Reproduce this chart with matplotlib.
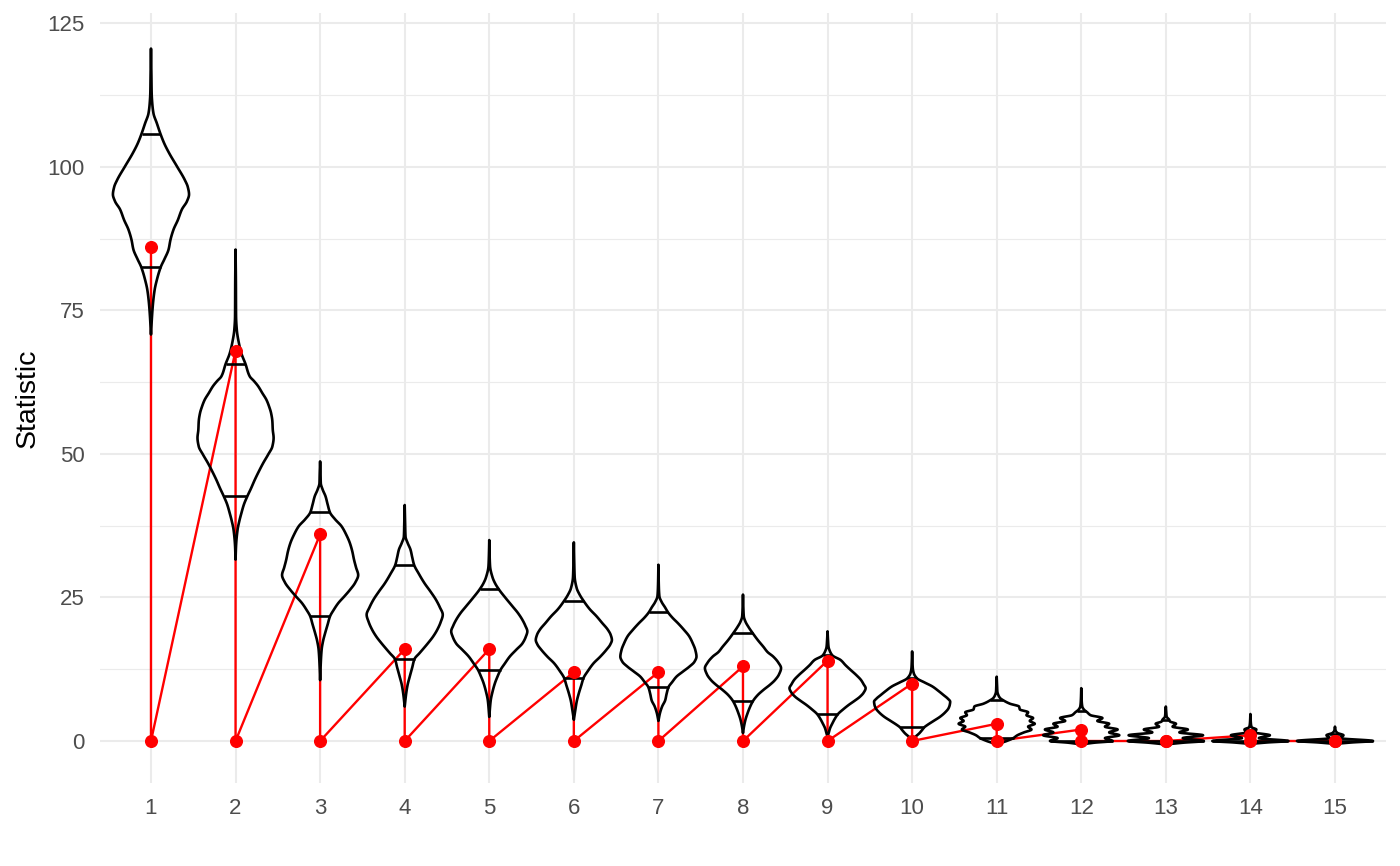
import numpy as np
import matplotlib
matplotlib.use("Agg")
import matplotlib.pyplot as plt

plt.rcParams['font.family'] = ['Liberation Sans', 'DejaVu Sans']

# ---------------- data ----------------
positions = list(range(1, 16))
tick_labels = [str(p) for p in positions]
observed = [86, 68, 36, 16, 16, 12, 12, 13, 14, 10, 3, 2, 0, 1, 0]
q_low = [82.6, 42.6, 21.7, 14.3, 12.4, 11.0, 9.4, 7.0, 4.7, 2.4, 0.6, 0.0, 0.0, 0.0, 0.0]
q_high = [105.8, 65.7, 39.8, 30.7, 26.4, 24.4, 22.4, 18.8, 14.9, 10.9, 7.1, 5.2, 3.6, 1.9, 1.2]

# violin outlines: (statistic value, relative half-width)
prof_01 = [(70.8, 0), (73.9, 0.012), (76.2, 0.024), (78.6, 0.044), (80.3, 0.07), (82.6, 0.118),
           (83.9, 0.16), (85.6, 0.21), (87.3, 0.233), (89.1, 0.27), (90.7, 0.32), (92.6, 0.37),
           (94.0, 0.43), (95.2, 0.455), (96.5, 0.44), (97.7, 0.405), (100.1, 0.31), (102.4, 0.217),
           (104.1, 0.158), (105.8, 0.112), (107.6, 0.07), (109.3, 0.03), (111.1, 0.015),
           (112.9, 0.008), (116, 0.005), (120.6, 0)]
prof_02 = [(31.6, 0), (34.0, 0.006), (36.8, 0.024), (38.3, 0.045), (39.7, 0.07), (41.2, 0.1),
           (42.6, 0.14), (44.0, 0.185), (45.5, 0.23), (47.0, 0.28), (48.4, 0.33), (49.9, 0.39),
           (51.3, 0.44), (52.8, 0.455), (54.2, 0.445), (55.7, 0.44), (57.1, 0.425), (58.3, 0.40),
           (59.4, 0.37), (60.6, 0.32), (61.8, 0.27), (62.7, 0.22), (63.5, 0.17), (65.7, 0.118),
           (67.5, 0.07), (69.3, 0.04), (71.6, 0.015), (74.0, 0.006), (80, 0.004), (85.6, 0)]
prof_03 = [(10.6, 0), (13.0, 0.006), (15.9, 0.018), (17.4, 0.035), (18.8, 0.06), (20.3, 0.09),
           (21.7, 0.118), (22.9, 0.165), (24.0, 0.216), (25.2, 0.29), (26.3, 0.355), (27.6, 0.42),
           (28.9, 0.455), (30.2, 0.43), (31.6, 0.405), (33.0, 0.385), (34.5, 0.355), (36.0, 0.31),
           (37.4, 0.256), (38.6, 0.18), (39.8, 0.118), (41.2, 0.09), (42.6, 0.065), (43.8, 0.03),
           (44.9, 0.008), (46.5, 0.005), (48.7, 0)]
prof_04 = [(6.0, 0), (8.3, 0.018), (9.8, 0.035), (11.2, 0.06), (12.8, 0.09), (14.3, 0.118),
           (15.3, 0.177), (16.2, 0.23), (17.0, 0.276), (18.2, 0.34), (19.4, 0.39), (20.7, 0.43),
           (22.0, 0.455), (23.3, 0.42), (24.6, 0.374), (26.0, 0.31), (27.5, 0.236), (29.1, 0.17),
           (30.7, 0.112), (32.0, 0.09), (33.3, 0.07), (34.5, 0.035), (35.6, 0.01), (38.0, 0.005),
           (41.1, 0)]
prof_05 = [(4.2, 0), (7.1, 0.018), (8.6, 0.04), (10.1, 0.07), (11.2, 0.1), (12.4, 0.138),
           (13.5, 0.19), (14.7, 0.25), (15.9, 0.33), (17.0, 0.405), (18.1, 0.445), (19.1, 0.465),
           (20.1, 0.44), (21.1, 0.405), (22.3, 0.35), (23.4, 0.287), (24.9, 0.2), (26.4, 0.118),
           (27.5, 0.07), (28.5, 0.04), (30.4, 0.01), (32.0, 0.005), (35.0, 0)]
prof_06 = [(3.7, 0), (5.4, 0.018), (6.9, 0.035), (8.3, 0.06), (9.7, 0.09), (11.0, 0.118),
           (12.2, 0.17), (13.5, 0.236), (14.7, 0.32), (15.9, 0.394), (16.8, 0.44), (17.6, 0.46),
           (18.5, 0.445), (19.4, 0.41), (20.6, 0.34), (21.7, 0.276), (23.0, 0.19), (24.4, 0.118),
           (25.5, 0.07), (26.6, 0.035), (28.6, 0.01), (31.0, 0.005), (34.6, 0)]
prof_07 = [(3.5, 0), (4.8, 0.018), (6.0, 0.045), (7.1, 0.083), (8.2, 0.1), (9.4, 0.124),
           (10.3, 0.17), (11.2, 0.22), (12.1, 0.3), (12.95, 0.378), (13.8, 0.44), (14.7, 0.465),
           (15.9, 0.45), (17.0, 0.42), (18.2, 0.378), (19.4, 0.31), (20.5, 0.24), (21.5, 0.17),
           (22.4, 0.118), (23.3, 0.08), (24.2, 0.04), (25.2, 0.012), (27.0, 0.005), (30.7, 0)]
prof_08 = [(1.4, 0), (2.5, 0.012), (3.7, 0.03), (4.8, 0.055), (5.9, 0.085), (7.0, 0.124),
           (8.0, 0.18), (8.9, 0.25), (9.8, 0.33), (10.6, 0.39), (11.6, 0.44), (12.7, 0.465),
           (13.7, 0.43), (14.7, 0.37), (15.5, 0.3), (16.4, 0.25), (17.6, 0.18), (18.8, 0.118),
           (19.8, 0.07), (20.8, 0.03), (21.7, 0.01), (23.0, 0.005), (25.5, 0)]
prof_09 = [(0.75, 0), (1.3, 0.012), (2.2, 0.03), (3.1, 0.06), (3.9, 0.09), (4.7, 0.128),
           (5.5, 0.19), (6.3, 0.26), (7.0, 0.33), (7.7, 0.395), (8.4, 0.44), (9.2, 0.465),
           (9.9, 0.44), (10.6, 0.41), (11.5, 0.35), (12.4, 0.28), (13.2, 0.22), (14.1, 0.16),
           (14.9, 0.06), (15.6, 0.03), (16.4, 0.012), (17.5, 0.006), (19.1, 0)]
prof_10 = [(0.0, 0), (0.6, 0.03), (1.35, 0.087), (1.9, 0.12), (2.4, 0.148), (2.8, 0.185),
           (3.5, 0.26), (4.25, 0.34), (5.0, 0.40), (5.7, 0.44), (6.3, 0.455), (6.85, 0.46),
           (7.4, 0.43), (8.0, 0.38), (8.7, 0.32), (9.5, 0.245), (10.2, 0.15), (10.9, 0.06),
           (11.8, 0.02), (12.7, 0.008), (13.5, 0.005), (15.6, 0)]
prof_11 = [(-0.7, 0), (-0.3, 0.06), (0.0, 0.12), (0.5, 0.2), (1.0, 0.25), (1.5, 0.33), (2.0, 0.42),
           (2.5, 0.38), (3.0, 0.46), (3.5, 0.40), (4.0, 0.44), (4.5, 0.36), (5.0, 0.38), (5.5, 0.28),
           (6.0, 0.27), (6.5, 0.16), (7.0, 0.09), (7.5, 0.04), (8.0, 0.02), (8.6, 0.008),
           (9.5, 0.005), (11.2, 0)]
prof_12 = [(-0.6, 0), (-0.3, 0.15), (0.0, 0.37), (0.5, 0.28), (1.0, 0.45), (1.5, 0.33), (2.0, 0.43),
           (2.5, 0.28), (3.0, 0.33), (3.5, 0.19), (4.0, 0.25), (4.5, 0.11), (5.0, 0.07), (5.5, 0.03),
           (6.0, 0.012), (7.0, 0.005), (9.2, 0)]
prof_13 = [(-0.6, 0), (-0.3, 0.2), (0.0, 0.45), (0.5, 0.2), (1.0, 0.44), (1.5, 0.16), (2.0, 0.26),
           (2.5, 0.08), (3.0, 0.12), (3.4, 0.05), (3.7, 0.04), (4.25, 0.01), (5.0, 0.005), (6.0, 0)]
prof_14 = [(-0.5, 0), (-0.25, 0.2), (0.0, 0.45), (0.5, 0.1), (1.0, 0.23), (1.5, 0.05), (2.0, 0.07),
           (2.4, 0.015), (3.0, 0.006), (4.7, 0)]
prof_15 = [(-0.5, 0), (-0.25, 0.2), (0.0, 0.45), (0.5, 0.06), (1.0, 0.1), (1.4, 0.03), (1.8, 0.008),
           (2.5, 0)]
profiles = [prof_01, prof_02, prof_03, prof_04, prof_05, prof_06, prof_07, prof_08,
            prof_09, prof_10, prof_11, prof_12, prof_13, prof_14, prof_15]


def pchip(x, y, xn):
    x = np.asarray(x, float)
    y = np.asarray(y, float)
    h = np.diff(x)
    d = np.diff(y) / h
    n = len(x)
    m = np.zeros(n)
    for k in range(1, n - 1):
        if d[k - 1] * d[k] > 0:
            w1 = 2 * h[k] + h[k - 1]
            w2 = h[k] + 2 * h[k - 1]
            m[k] = (w1 + w2) / (w1 / d[k - 1] + w2 / d[k])
    m[0] = d[0]
    m[-1] = d[-1]
    idx = np.clip(np.searchsorted(x, xn) - 1, 0, n - 2)
    t = (xn - x[idx]) / h[idx]
    h00 = 2 * t**3 - 3 * t**2 + 1
    h10 = t**3 - 2 * t**2 + t
    h01 = -2 * t**3 + 3 * t**2
    h11 = t**3 - t**2
    return h00 * y[idx] + h10 * h[idx] * m[idx] + h01 * y[idx + 1] + h11 * h[idx] * m[idx + 1]


WIDTH = 0.9
vpstats = []
for prof in profiles:
    ys = [p[0] for p in prof]
    ws = [p[1] for p in prof]
    coords = np.linspace(ys[0], ys[-1], 600)
    vals = np.clip(pchip(ys, ws, coords), 0, None)
    vpstats.append(dict(coords=coords, vals=vals, mean=np.nan, median=np.nan,
                        min=ys[0], max=ys[-1]))

fig = plt.figure(figsize=(14, 8.66), dpi=100)
ax = fig.add_axes([0.0716, 0.0962, 0.9182, 0.8888])

grid_c = '#EBEBEB'
ax.set_axisbelow(True)

# red observed path
path_x, path_y = [], []
for p, o in zip(positions, observed):
    path_x += [p, p]
    path_y += [o, 0]
ax.plot(path_x, path_y, color='#FF0000', lw=1.7, zorder=2, solid_capstyle='butt')

parts = ax.violin(vpstats, positions=positions, widths=WIDTH,
                  showmeans=False, showextrema=False, showmedians=False)
for b in parts['bodies']:
    b.set_facecolor('none')
    b.set_edgecolor('black')
    b.set_linewidth(1.9)
    b.set_alpha(1)
    b.set_zorder(3)

# quantile lines clipped to the violin outline
for st, p, lo, hi in zip(vpstats, positions, q_low, q_high):
    scale = 0.5 * WIDTH / st['vals'].max()
    for q in (lo, hi):
        w = np.interp(q, st['coords'], st['vals']) * scale
        ax.hlines(q, p - w, p + w, colors='black', lw=1.9, zorder=3)

ax.plot(positions, observed, 'o', color='#FF0000', ms=8.4, zorder=4)
ax.plot(positions, [0] * len(positions), 'o', color='#FF0000', ms=8.4, zorder=4)

ax.set_xlim(0.4, 15.6)
ax.set_ylim(-7.26, 126.8)
ax.set_xticks(positions)
ax.set_xticklabels(tick_labels)
ax.set_yticks([0, 25, 50, 75, 100, 125])
ax.set_yticks([12.5, 37.5, 62.5, 87.5, 112.5], minor=True)
ax.grid(which='major', color=grid_c, lw=1.5)
ax.grid(which='minor', axis='y', color=grid_c, lw=0.8)
for s in ax.spines.values():
    s.set_visible(False)
ax.tick_params(which='both', length=0, labelsize=16, labelcolor='#4D4D4D')
ax.tick_params(axis='y', pad=11)
ax.tick_params(axis='x', pad=11)
ax.set_ylabel('Statistic', fontsize=20.5, color='black')
ax.yaxis.set_label_coords(-0.046, 0.5)

fig.savefig('out.png', dpi=100)
